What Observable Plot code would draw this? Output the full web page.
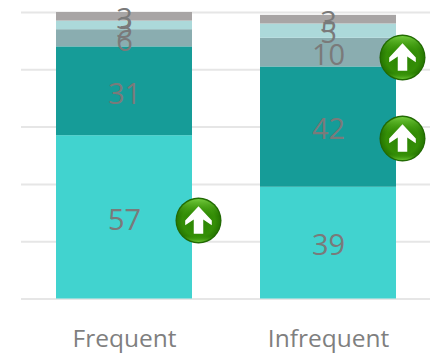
<!DOCTYPE html>
<html><head><meta charset="utf-8">
<style>html,body{margin:0;padding:0;background:#fff}svg{display:block;overflow:visible}</style>
<script src="https://cdn.jsdelivr.net/npm/d3@7"></script>
<script src="https://cdn.jsdelivr.net/npm/@observablehq/plot@0.6"></script>
</head><body><script>
const categories = ["Frequent", "Infrequent"];
const segments = ["a", "b", "c", "d", "e"];
const colors = ["#41d3cf", "#169c98", "#8aadb0", "#acd9da", "#a8a5a5"];
const frequentValues = [57, 31, 6, 3, 3];
const infrequentValues = [39, 42, 10, 5, 3];
const arrowCategories = ["Frequent", "Infrequent", "Infrequent"];
const arrowLevels = [27.4, 56, 84.3];
const gridValues = [0, 20, 40, 60, 80, 100];

const rows = [];
[frequentValues, infrequentValues].forEach((vals, i) => {
  let sum = 0;
  vals.forEach((v, j) => {
    rows.push({cat: categories[i], seg: segments[j], v, y1: sum, y2: sum + v});
    sum += v;
  });
});
const arrows = arrowCategories.map((c, i) => ({cat: c, y: arrowLevels[i]}));
const upArrow = {draw(ctx, size) {
  const s = Math.sqrt(size) / 28;
  const p = [[0,-15],[14,0],[14,5],[5,-1],[5,14],[-5,14],[-5,-1],[-14,5],[-14,0]];
  p.forEach(([x, y], i) => i ? ctx.lineTo(x*s, y*s) : ctx.moveTo(x*s, y*s));
  ctx.closePath();
}};
const defs = () => {
  const ns = "http://www.w3.org/2000/svg";
  const d = document.createElementNS(ns, "defs");
  d.innerHTML = `<radialGradient id="gloss" cx="50%" cy="50%" r="52%">
    <stop offset="0%" stop-color="#2a8404"/><stop offset="68%" stop-color="#348e06"/>
    <stop offset="88%" stop-color="#287a02"/><stop offset="100%" stop-color="#175400"/></radialGradient>
    <linearGradient id="rim" x1="0" y1="0" x2="0" y2="1">
    <stop offset="0%" stop-color="#74cc3e"/><stop offset="40%" stop-color="#3c9a0a" stop-opacity="0"/>
    <stop offset="85%" stop-color="#3c9a0a" stop-opacity="0"/><stop offset="100%" stop-color="#69c430"/></linearGradient>`;
  return d;
};
const plot = Plot.plot({
  width: 436, height: 355,
  marginLeft: 21, marginRight: 6, marginTop: 12, marginBottom: 56.5,
  style: {background: "#fff", fontFamily: "'Open Sans', sans-serif", overflow: "visible"},
  x: {domain: categories, paddingInner: 0.335, paddingOuter: 0.1675, align: 0.5, label: null},
  y: {domain: [0, 100], label: null, axis: null},
  color: {domain: segments, range: colors},
  marks: [
    defs,
    Plot.ruleY(gridValues, {stroke: "#e6e6e6", strokeWidth: 2}),
    Plot.rectY(rows, {x: "cat", y1: "y1", y2: "y2", fill: "seg"}),
    Plot.text(rows, {x: "cat", y: d => (d.y1 + d.y2) / 2, text: d => String(d.v), fill: "#7a7a7a", fontSize: 29, dy: 3}),
    Plot.axisX({tickSize: 0, tickPadding: 31, fontSize: 24.5, fill: "#7f7f7f", label: null}),
    Plot.dot(arrows, {x: "cat", y: "y", dx: 74, r: 23, fill: "url(#gloss)", style: {filter: "drop-shadow(2px 3px 2px rgba(0,0,0,.4))"}}),
    Plot.dot(arrows, {x: "cat", y: "y", dx: 74, r: 21.5, fill: "url(#rim)"}),
    Plot.dot(arrows, {x: "cat", y: "y", dx: 74, r: 15, symbol: upArrow, fill: "#fff", stroke: "none"})
  ]
});
document.body.appendChild(plot);
</script></body></html>
